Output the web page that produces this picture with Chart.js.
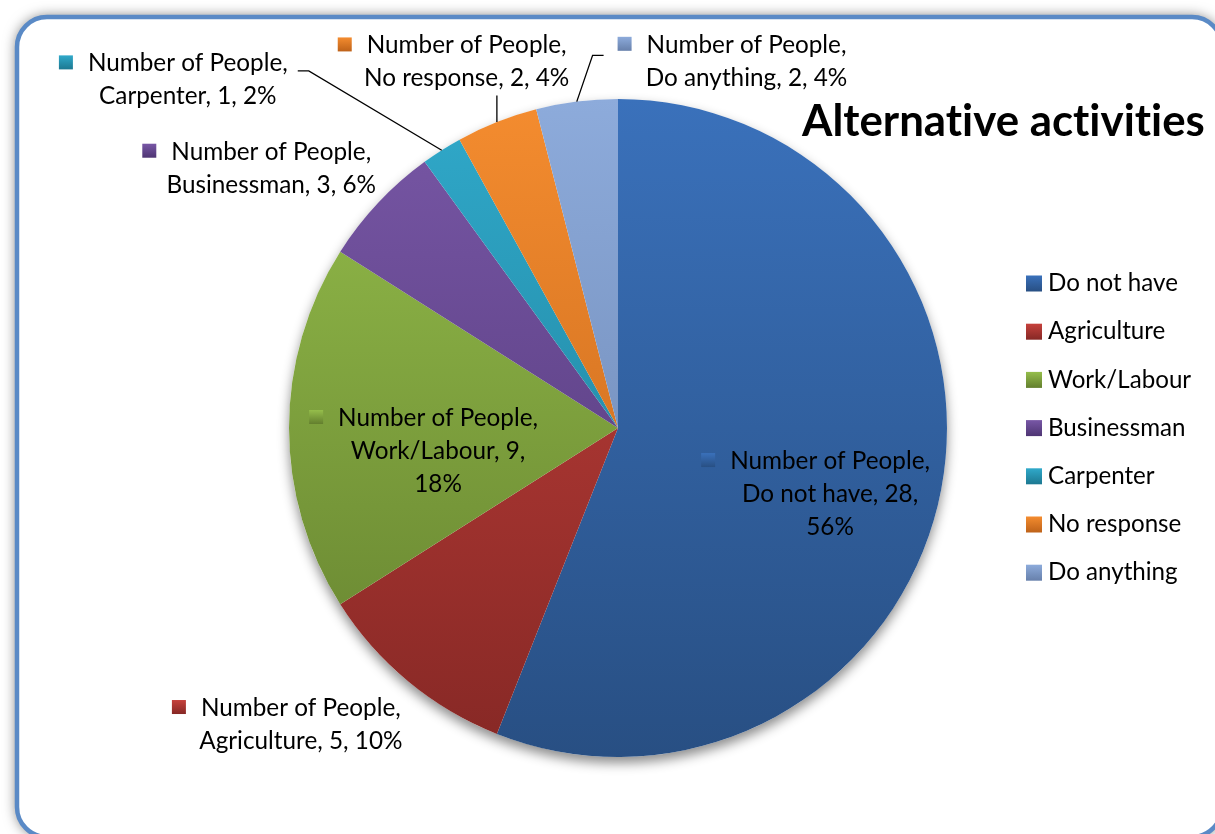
<!DOCTYPE html>
<html>
<head>
<meta charset="utf-8">
<script src="https://cdn.jsdelivr.net/npm/chart.js@4.4.1/dist/chart.umd.min.js"></script>
<style>
  html, body { margin: 0; padding: 0; background: #fff; }
  #wrap { width: 1215px; height: 834px; position: relative; }
</style>
</head>
<body>
<div id="wrap"><canvas id="pie"></canvas></div>
<script>
const categories = ['Do not have', 'Agriculture', 'Work/Labour', 'Businessman', 'Carpenter', 'No response', 'Do anything'];
const people = [28, 5, 9, 3, 1, 2, 2];
const seriesName = 'Number of People';
const chartTitle = 'Alternative activities';

// top (light) and bottom (dark) shade of every slice
const topColors = ['#3A71BB', '#C6413C', '#95BE4B', '#7857A6', '#30A9CA', '#F48C2F', '#8DABDB'];
const bottomColors = ['#284F83', '#862825', '#637F2E', '#4E3573', '#1C7891', '#BE6219', '#6780AB'];

const FONT = 'Lato, "Open Sans", sans-serif';

// label placement: radius factor along the slice mid angle, then a nudge
const labelPlace = [
  { k: 0.65, dx: 2, dy: 26 },
  { k: 1.15, dx: -76, dy: 5 },
  { k: 0.55, dx: 1, dy: 23 },
  { k: 1.3, dx: -35, dy: 33 },
  { k: 1.3, dx: -201, dy: 13, leader: 'right' },
  { k: 1.2, dx: -6, dy: 1, leader: 'bottom' },
  { k: 1.2, dx: 178, dy: 25, leader: 'left' }
];

function fitSize(text, width, weight) {
  const c = document.createElement('canvas').getContext('2d');
  c.font = weight + ' 100px ' + FONT;
  return 100 * width / c.measureText(text).width;
}
const labelSize = fitSize('Number of People,', 200, 'normal');
const legendSize = fitSize('Do not have', 130, 'normal');
const titleSize = fitSize(chartTitle, 405, 'bold');
const lineH = 33;

function shade(ctx, i, y0, y1) {
  const g = ctx.createLinearGradient(0, y0, 0, y1);
  g.addColorStop(0, topColors[i]);
  g.addColorStop(1, bottomColors[i]);
  return g;
}

function marker(ctx, i, x, y, s) {
  ctx.fillStyle = shade(ctx, i, y, y + s);
  ctx.fillRect(x, y, s, s);
}

function wrap(ctx, text, maxW) {
  const words = text.split(' ');
  const lines = [];
  let cur = '';
  words.forEach(w => {
    const t = cur ? cur + ' ' + w : w;
    if (cur && ctx.measureText(t).width > maxW) {
      lines.push(cur);
      cur = w;
    } else cur = t;
  });
  if (cur) lines.push(cur);
  return lines;
}

const framePlugin = {
  id: 'frame',
  beforeDraw(chart) {
    const ctx = chart.ctx;
    ctx.save();
    ctx.beginPath();
    ctx.roundRect(17, 17, 1205, 820, 30);
    ctx.shadowColor = 'rgba(0,0,0,0.6)';
    ctx.shadowBlur = 14;
    ctx.fillStyle = '#fff';
    ctx.fill();
    ctx.shadowColor = 'transparent';
    ctx.lineWidth = 4.5;
    ctx.strokeStyle = '#5A8AC6';
    ctx.stroke();
    ctx.restore();
  },
  beforeDatasetsDraw(chart) {
    const arc = chart.getDatasetMeta(0).data[0];
    const ctx = chart.ctx;
    ctx.save();
    ctx.beginPath();
    ctx.arc(arc.x, arc.y, arc.outerRadius, 0, Math.PI * 2);
    ctx.shadowColor = 'rgba(0,0,0,0.45)';
    ctx.shadowBlur = 12;
    ctx.shadowOffsetY = 6;
    ctx.fillStyle = '#fff';
    ctx.fill();
    ctx.restore();
  }
};

const labelPlugin = {
  id: 'sliceLabels',
  afterDatasetsDraw(chart) {
    const ctx = chart.ctx;
    const total = people.reduce((a, b) => a + b, 0);
    ctx.save();
    ctx.font = labelSize + 'px ' + FONT;
    ctx.textBaseline = 'middle';
    ctx.textAlign = 'left';
    chart.getDatasetMeta(0).data.forEach((arc, i) => {
      const mid = (arc.startAngle + arc.endAngle) / 2;
      const r = arc.outerRadius;
      const p = labelPlace[i];
      const cx = arc.x + Math.cos(mid) * r * p.k + p.dx;
      const cy = arc.y + Math.sin(mid) * r * p.k + p.dy;
      const pct = Math.round(people[i] / total * 100);
      const text = seriesName + ', ' + categories[i] + ', ' + people[i] + ', ' + pct + '%';
      const lines = wrap(ctx, text, 218);
      const y0 = cy - (lines.length - 1) * lineH / 2;
      let left = Infinity, right = -Infinity;
      ctx.fillStyle = '#000';
      lines.forEach((ln, j) => {
        const w = ctx.measureText(ln).width;
        const x = cx - w / 2;
        left = Math.min(left, x);
        right = Math.max(right, x + w);
        ctx.fillText(ln, x, y0 + j * lineH);
      });
      const w0 = ctx.measureText(lines[0]).width;
      const mx = cx - w0 / 2 - 29;
      marker(ctx, i, mx, y0 - 8, 14);
      ctx.fillStyle = '#000';
      left = Math.min(left, mx);
      const bottom = y0 + (lines.length - 1) * lineH + 15;
      if (p.leader) {
        const ex = arc.x + Math.cos(mid) * r;
        const ey = arc.y + Math.sin(mid) * r;
        ctx.strokeStyle = '#000';
        ctx.lineWidth = 1.3;
        ctx.beginPath();
        if (p.leader === 'right') {
          const ly = cy - 9;
          ctx.moveTo(right + 10, ly);
          ctx.lineTo(right + 21, ly);
          ctx.lineTo(ex, ey);
        } else if (p.leader === 'left') {
          const ly = cy - 6;
          ctx.moveTo(left - 14, ly);
          ctx.lineTo(left - 25, ly);
          ctx.lineTo(ex, ey);
        } else {
          ctx.moveTo(ex, bottom + 2);
          ctx.lineTo(ex, ey);
        }
        ctx.stroke();
      }
    });
    ctx.restore();
  },
  afterDraw(chart) {
    const ctx = chart.ctx;
    ctx.save();
    // title (tiny letter spacing keeps the "ti" pairs from joining)
    ctx.font = 'bold ' + titleSize + 'px ' + FONT;
    ctx.letterSpacing = '0.01px';
    ctx.fillStyle = '#000';
    ctx.textBaseline = 'alphabetic';
    ctx.textAlign = 'left';
    ctx.fillText(chartTitle, 802, 136);
    ctx.letterSpacing = '0px';
    // legend
    ctx.font = legendSize + 'px ' + FONT;
    ctx.textBaseline = 'middle';
    categories.forEach((c, i) => {
      const y = 283.5 + i * 48.2;
      marker(ctx, i, 1026, y - 8, 16);
      ctx.fillStyle = '#000';
      ctx.fillText(c, 1048, y);
    });
    ctx.restore();
  }
};

new Chart('pie', {
  type: 'pie',
  data: {
    labels: categories,
    datasets: [{
      label: seriesName,
      data: people,
      borderWidth: 0,
      backgroundColor: (ctx) => {
        const area = ctx.chart.chartArea;
        if (!area) return topColors[ctx.dataIndex];
        return shade(ctx.chart.ctx, ctx.dataIndex, area.top, area.bottom);
      }
    }]
  },
  options: {
    responsive: true,
    maintainAspectRatio: false,
    animation: false,
    layout: { padding: { left: 289, right: 268, top: 99, bottom: 77 } },
    plugins: {
      legend: { display: false },
      tooltip: { enabled: false },
      title: { display: false }
    },
    events: []
  },
  plugins: [framePlugin, labelPlugin]
});
</script>
</body>
</html>
